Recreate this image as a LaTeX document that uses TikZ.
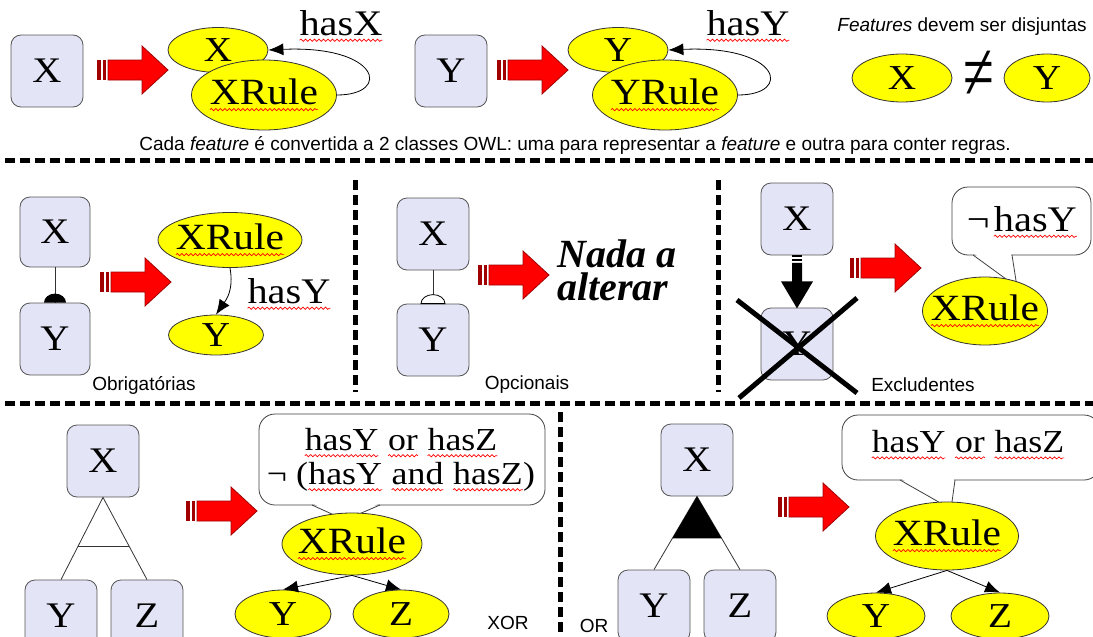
\documentclass[tikz,border=0pt]{standalone}
\usepackage{fontspec}
\setmainfont{Liberation Serif}
\setsansfont{Liberation Sans}
\newfontfamily\lblfont{Liberation Serif}[FakeStretch=1.12]
\usetikzlibrary{shapes.geometric, arrows.meta, calc, decorations.pathmorphing}

% red wavy underline, as a spell checker draws it
\newcommand\squig[1]{\tikz[baseline=(w.base)]{\node[shape=rectangle, draw=none, fill=none, inner sep=0pt, outer sep=0pt, minimum width=0pt, minimum height=0pt] (w) {#1};
  \draw[draw=red, fill=none, solid, line width=0.7pt, decorate, decoration={snake, amplitude=1.1pt, segment length=4.5pt}] ([yshift=-5pt]w.base west) -- ([yshift=-5pt]w.base east);}}

\begin{document}
\begin{tikzpicture}[x=1pt, y=-1pt,
    feat/.style={draw=boxBorder, fill=boxFill, rounded corners=10pt, line width=0.8pt,
      minimum width=72pt, minimum height=72pt, font=\lblfont\fontsize{36}{36}\selectfont},
    owl/.style={ellipse, draw=ellBorder, fill=owlYellow, inner sep=0pt, line width=0.8pt,
      font=\lblfont\fontsize{35}{35}\selectfont},
    rulefont/.style={font=\lblfont\fontsize{37}{37}\selectfont},
    haslabel/.style={inner sep=0pt, font=\lblfont\fontsize{36}{36}\selectfont},
    caption/.style={inner sep=0pt, font=\sffamily\fontsize{19}{21}\selectfont},
    nadafont/.style={anchor=base west, inner sep=0pt, font=\bfseries\itshape\fontsize{40}{40}\selectfont},
    sep/.style={line width=5pt, dash pattern=on 10pt off 5pt},
    tie/.style={line width=0.8pt, draw=black!80},
    link/.style={line width=0.8pt, -{Latex[length=15pt, width=12pt]}},
    bubble/.style={draw=black!75, fill=white, line width=0.8pt, rounded corners=16pt},
    bubbleline/.style={draw=black!75, line width=0.8pt},
    fatarrow/.pic={
      \fill[arrowDark] (0,-10) rectangle (3.5,10);
      \fill[arrowDark] (5.5,-10) rectangle (9,10);
      \filldraw[fill=arrowRed, draw=arrowDark, line width=0.8pt]
        (11,-10) -- (45,-10) -- (45,-24) -- (71,0) -- (45,24) -- (45,10) -- (11,10) -- cycle;
    }]
  % Define colours
  \definecolor{boxFill}{HTML}{E4E4F7}
  \definecolor{boxBorder}{HTML}{555555}
  \definecolor{owlYellow}{HTML}{FFFF00}
  \definecolor{ellBorder}{HTML}{333333}
  \definecolor{arrowRed}{HTML}{FF0000}
  \definecolor{arrowDark}{HTML}{A00000}

  \useasboundingbox (0,0) rectangle (1093,637);

  % Each feature becomes two OWL classes
  \node[feat] (xbox) at (47,71) {X};
  \pic at (97,70) {fatarrow};
  \node[owl, minimum width=100pt, minimum height=45pt] (xcls) at (218,50) {X};
  \node[owl, rulefont, minimum width=145pt, minimum height=70pt] (xrule) at (264,95) {\makebox[40pt]{\squig{XRule}}};
  \node[haslabel] (hasx) at (341,26) {\squig{hasX}};
  \draw[link] (xrule.east) .. controls (392,95) and (380,45) .. (xcls.east);

  \node[feat] (ybox) at (451,71) {Y};
  \pic at (497,70) {fatarrow};
  \node[owl, minimum width=100pt, minimum height=45pt] (ycls) at (618,50) {Y};
  \node[owl, rulefont, minimum width=145pt, minimum height=70pt] (yrule) at (665,95) {\makebox[40pt]{\squig{YRule}}};
  \node[haslabel] (hasy) at (748,26) {\squig{hasY}};
  \draw[link] (yrule.east) .. controls (793,95) and (781,45) .. (ycls.east);

  % Disjoint features
  \node[caption] (disj) at (962,27) {\textit{Features} devem ser disjuntas};
  \node[owl, minimum width=100pt, minimum height=48pt] (xdis) at (902,78) {X};
  \node[owl, minimum width=86pt, minimum height=48pt] (ydis) at (1047,78) {Y};
  \node[inner sep=0pt, font=\fontsize{56}{56}\selectfont] (neq) at (979,75) {\scalebox{1}[1.45]{≠}};

  \node[caption] (summary) at (575,145) {Cada \textit{feature} é convertida a 2 classes OWL: uma para representar a \textit{feature} e outra para conter regras.};

  % Separators
  \draw[sep] (5,160) -- (1093,160);
  \draw[sep] (5,403) -- (1093,403);
  \foreach \sx in {355,718}
    \draw[sep] (\sx,180) -- (\sx,392);
  \draw[sep] (560,412) -- (560,637);

  % Mandatory
  \node[feat, minimum width=70pt, minimum height=70pt] (xmand) at (55,232) {X};
  \node[feat, minimum width=70pt] (ymand) at (55,339) {Y};
  \draw[tie] (xmand.south) -- (ymand.north);
  \fill ([xshift=-11pt]ymand.north) arc[start angle=180, end angle=0, x radius=11pt, y radius=9pt] -- cycle;
  \pic at (100,282) {fatarrow};
  \node[owl, rulefont, minimum width=144pt, minimum height=55pt] (xrulem) at (230,240) {\makebox[40pt]{\squig{XRule}}};
  \node[owl, minimum width=95pt, minimum height=40pt] (yclsm) at (216,335) {Y};
  \draw[link] (xrulem.south) .. controls (234,290) and (226,300) .. (yclsm.north);
  \node[haslabel] (hasym) at (289,294) {\squig{hasY}};
  \node[caption] (mand) at (144,385) {Obrigatórias};

  % Optional
  \node[feat] (xopt) at (433,234) {X};
  \node[feat] (yopt) at (433,340) {Y};
  \draw[tie] (xopt.south) -- (yopt.north);
  \filldraw[fill=white, line width=0.8pt] ([xshift=-12pt]yopt.north) arc[start angle=180, end angle=0, x radius=12pt, y radius=9pt] -- cycle;
  \pic at (478,275) {fatarrow};
  \node[nadafont] (nada) at (557,267) {Nada a};
  \node[nadafont] (alterar) at (557,300) {alterar};
  \node[caption] (opt) at (527,385) {Opcionais};

  % Excluding
  \node[feat] (xexc) at (797,219) {X};
  \node[feat] (yexc) at (797,344) {Y};
  \begin{scope}[shift={(xexc.south)}]
    \fill (-5,0) rectangle (5,2);
    \fill (-5,3.5) rectangle (5,6);
    \fill (-5,7.5) -- (5,7.5) -- (5,26) -- (16,26) -- (0,53) -- (-16,26) -- (-5,26) -- cycle;
  \end{scope}
  \draw[line width=5pt] (737,300) -- (857,393) (857,298) -- (739,398);
  \pic at (850,268) {fatarrow};
  \filldraw[bubble] (952,187) rectangle (1091,255);
  \fill[white] (974,253.5) -- (1017,287) -- (1011,253.5) -- cycle;
  \draw[bubbleline] (973,255) -- (1017,287) -- (1012,255);
  \node[owl, rulefont, minimum width=125pt, minimum height=68pt] (xrulee) at (985,311) {\makebox[40pt]{\squig{XRule}}};
  \node[haslabel] (noty) at (1022,222) {¬\hspace{4pt}\squig{hasY}};
  \node[caption] (exc) at (923,385) {Excludentes};

  % Alternative (xor)
  \node[feat] (xxor) at (103,461) {X};
  \node[feat] (yxor) at (61,616) {Y};
  \node[feat] (zxor) at (147,616) {Z};
  \draw[tie] (yxor.north) -- (xxor.south) -- (zxor.north);
  \draw[tie] ($(xxor.south)!0.59!(yxor.north)$) -- ($(xxor.south)!0.59!(zxor.north)$);
  \pic at (186,511) {fatarrow};
  \filldraw[bubble] (259,414) rectangle (545,505);
  \fill[white] (313,503.5) -- (345,520) -- (379,503.5) -- cycle;
  \draw[bubbleline] (312,505) -- (345,520) -- (380,505);
  \node[haslabel, align=center, font=\lblfont\fontsize{32}{34}\selectfont] (xortxt) at (401,460)
    {\squig{hasY} \squig{or} \squig{hasZ}\\¬ (\squig{hasY} \squig{and} \squig{hasZ})};
  \node[owl, rulefont, minimum width=140pt, minimum height=62pt] (xrulexor) at (352,544) {\makebox[40pt]{\squig{XRule}}};
  \node[owl, minimum width=96pt, minimum height=48pt] (yclsxor) at (283,614) {Y};
  \node[owl, minimum width=96pt, minimum height=48pt] (zclsxor) at (401,614) {Z};
  \draw[link] (xrulexor.south) -- (yclsxor.north);
  \draw[link] (xrulexor.south) -- (zclsxor.north);
  \node[caption] (xorlbl) at (508,623) {XOR};

  % Or
  \node[caption] (orlbl) at (594,626) {OR};
  \node[feat] (xincl) at (697,460) {X};
  \node[feat] (yincl) at (654,606) {Y};
  \node[feat] (zincl) at (740,606) {Z};
  \draw[tie] (yincl.north) -- (xincl.south) -- (zincl.north);
  \fill (xincl.south) -- ($(xincl.south)!0.575!(yincl.north)$) -- ($(xincl.south)!0.575!(zincl.north)$) -- cycle;
  \pic at (778,507) {fatarrow};
  \filldraw[bubble] (842,415) rectangle (1100,480);
  \fill[white] (901,478.5) -- (951,509) -- (954,478.5) -- cycle;
  \draw[bubbleline] (900,480) -- (951,509) -- (955,480);
  \node[haslabel, font=\lblfont\fontsize{32}{34}\selectfont] (ortxt) at (968,445) {\squig{hasY} \squig{or} \squig{hasZ}};
  \node[owl, rulefont, minimum width=143pt, minimum height=68pt] (xruleor) at (947,536) {\makebox[40pt]{\squig{XRule}}};
  \node[owl, minimum width=98pt, minimum height=46pt] (yclsor) at (876,616) {Y};
  \node[owl, minimum width=98pt, minimum height=46pt] (zclsor) at (1000,616) {Z};
  \draw[link] (xruleor.south) -- (yclsor.north);
  \draw[link] (xruleor.south) -- (zclsor.north);
\end{tikzpicture}
\end{document}
